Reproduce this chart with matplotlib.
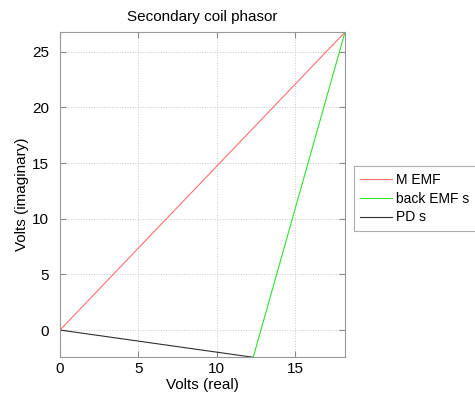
import matplotlib
matplotlib.use("Agg")
import matplotlib.pyplot as plt

plt.rcParams['font.family'] = ['Liberation Sans', 'DejaVu Sans']

# phasor end points (volts)
m_emf_x = [0, 18.2]
m_emf_y = [0, 26.77]
back_emf_x = [12.34, 18.2]
back_emf_y = [-2.45, 26.77]
pd_x = [0, 12.34]
pd_y = [0, -2.45]

labels = ['M EMF', 'back EMF s', 'PD s']

fig = plt.figure(figsize=(4.75, 3.97), dpi=100)
ax = fig.add_axes([0.1263, 0.1, 0.6, 0.819])

ax.plot(m_emf_x, m_emf_y, color='#ff7070', lw=0.8, label=labels[0])
ax.plot(back_emf_x, back_emf_y, color='#30e030', lw=0.8, label=labels[1])
ax.plot(pd_x, pd_y, color='#303030', lw=0.8, label=labels[2])

ax.set_xlim(0, 18.2)
ax.set_ylim(-2.45, 26.77)
ax.set_xticks([0, 5, 10, 15])
ax.set_yticks([0, 5, 10, 15, 20, 25])
ax.grid(True, linestyle=':', color='#c8c8c8', lw=0.7)
ax.tick_params(direction='in', top=True, right=True, labelsize=11, color='#888888', length=4)
ax.tick_params(axis='y', pad=8)
for s in ax.spines.values():
    s.set_color('#999999')

ax.set_title('Secondary coil phasor', fontsize=11, pad=8)
ax.set_xlabel('Volts (real)', fontsize=11, labelpad=1)
ax.set_ylabel('Volts (imaginary)', fontsize=11, labelpad=2)

leg = fig.legend(loc='center left', bbox_to_anchor=(0.745, 0.5), fontsize=10,
                 fancybox=False, edgecolor='#999999', handlelength=2.3,
                 borderpad=0.45, labelspacing=0.35, handletextpad=0.3,
                 borderaxespad=0.0)
leg.get_frame().set_linewidth(0.8)

fig.savefig('out.png', dpi=100)
